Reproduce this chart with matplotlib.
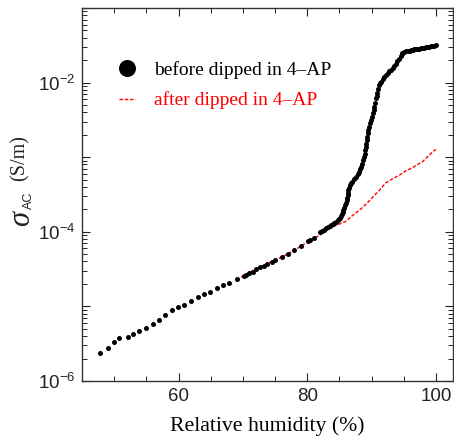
import numpy as np
import matplotlib.pyplot as plt
from matplotlib.ticker import FixedLocator, MultipleLocator, LogLocator, NullFormatter

plt.rcParams['mathtext.fontset'] = 'custom'
plt.rcParams['mathtext.rm'] = 'Liberation Sans'
plt.rcParams['mathtext.it'] = 'Liberation Sans:italic'

# before dipped in 4-AP (black dots)
rh_before = [47.8, 49.0, 49.9, 50.8, 52.1, 52.85, 53.9, 54.9, 55.96, 56.9,
             57.9, 58.96, 59.85, 60.9, 61.9, 63.0, 63.9, 64.9, 65.96, 66.9,
             67.9, 69.0, 70.1, 70.5, 71.0, 71.5, 72.1, 72.6, 73.2, 73.8,
             74.5, 75.0, 76.1, 77.0, 77.9, 78.96, 80.05, 80.5, 81.0,
             82.0, 82.3, 82.6, 82.9, 83.2, 83.5, 83.7, 84.0, 84.2, 84.5,
             84.7, 84.9, 85.1, 85.3, 85.4, 85.5, 85.6, 85.75, 85.9, 86.0,
             86.1, 86.2, 86.3, 86.35, 86.4, 86.5, 86.6, 86.8, 87.0, 87.3,
             87.6, 87.85, 88.1, 88.2, 88.3, 88.45, 88.6, 88.75, 88.9, 89.0,
             89.1, 89.2, 89.3, 89.35, 89.4, 89.5, 89.6, 89.75, 89.9, 90.05,
             90.2, 90.3, 90.4, 90.55, 90.7, 90.8, 90.9, 91.05, 91.2, 91.3,
             91.45, 91.7, 91.97, 92.2, 92.5, 92.75, 93.0, 93.25, 93.5, 93.75,
             94.0, 94.25, 94.5, 94.65, 94.8, 95.1, 95.4, 95.65, 95.9, 96.15,
             96.4, 96.65, 96.9, 97.15, 97.4, 97.65, 97.9, 98.15, 98.45, 98.7,
             98.96, 99.2, 99.5, 99.75, 100.0]
sigma_before = [2.4e-6, 2.78e-6, 3.28e-6, 3.75e-6, 3.91e-6, 4.2e-6, 4.61e-6, 5.11e-6, 5.85e-6, 6.55e-6,
                7.72e-6, 8.93e-6, 9.9e-6, 1.05e-5, 1.18e-5, 1.34e-5, 1.47e-5, 1.57e-5, 1.77e-5, 1.92e-5,
                2.04e-5, 2.31e-5, 2.56e-5, 2.67e-5, 2.81e-5, 2.92e-5, 3.15e-5, 3.35e-5, 3.52e-5, 3.71e-5,
                3.95e-5, 4.2e-5, 4.61e-5, 5.06e-5, 5.73e-5, 6.41e-5, 7.41e-5, 7.64e-5, 8.31e-5,
                1.0e-4, 1.03e-4, 1.07e-4, 1.11e-4, 1.16e-4, 1.2e-4, 1.24e-4, 1.28e-4, 1.32e-4, 1.37e-4,
                1.42e-4, 1.48e-4, 1.54e-4, 1.65e-4, 1.75e-4, 1.85e-4, 1.94e-4, 2.1e-4, 2.26e-4, 2.45e-4,
                2.64e-4, 2.85e-4, 3.08e-4, 3.35e-4, 3.6e-4, 3.9e-4, 4.2e-4, 4.45e-4, 4.66e-4, 5.05e-4,
                5.43e-4, 5.9e-4, 6.35e-4, 6.85e-4, 7.41e-4, 8.2e-4, 9.1e-4, 1.0e-3, 1.12e-3, 1.25e-3,
                1.38e-3, 1.52e-3, 1.69e-3, 1.88e-3, 2.08e-3, 2.3e-3, 2.56e-3, 2.85e-3, 3.15e-3, 3.5e-3,
                3.87e-3, 4.3e-3, 4.75e-3, 5.4e-3, 6.15e-3, 6.7e-3, 7.33e-3, 8.3e-3, 9.3e-3, 9.8e-3,
                1.03e-2, 1.11e-2, 1.2e-2, 1.27e-2, 1.34e-2, 1.41e-2, 1.48e-2, 1.57e-2, 1.67e-2, 1.79e-2,
                1.92e-2, 2.07e-2, 2.24e-2, 2.38e-2, 2.53e-2, 2.57e-2, 2.62e-2, 2.65e-2, 2.67e-2, 2.71e-2,
                2.75e-2, 2.78e-2, 2.81e-2, 2.83e-2, 2.86e-2, 2.88e-2, 2.9e-2, 2.93e-2, 2.96e-2, 2.99e-2,
                3.02e-2, 3.05e-2, 3.09e-2, 3.12e-2, 3.15e-2]

# after dipped in 4-AP (red dashed line)
rh_after = [69.0, 71.5, 73.6, 76.2, 78.8, 80.05, 81.9, 82.9, 83.9, 86.0,
            87.05, 88.1, 89.1, 90.2, 91.2, 92.2, 93.3, 94.3, 95.3, 96.4,
            97.4, 97.9, 98.4, 98.96, 99.5, 100.0]
sigma_after = [2.26e-5, 3.02e-5, 3.71e-5, 4.66e-5, 6.22e-5, 7.41e-5, 8.93e-5, 1.02e-4, 1.16e-4, 1.38e-4,
               1.66e-4, 1.94e-4, 2.33e-4, 2.92e-4, 3.6e-4, 4.52e-4, 5.16e-4, 5.73e-4, 6.55e-4, 7.26e-4,
               8.22e-4, 8.65e-4, 9.6e-4, 1.06e-3, 1.18e-3, 1.27e-3]

y_ticks = [1e-6, 1e-5, 1e-4, 1e-3, 1e-2, 1e-1]
y_ticklabels = [r'$10^{-6}$', '', r'$10^{-4}$', '', r'$10^{-2}$', '']
x_ticks = [60, 80, 100]

fig = plt.figure(figsize=(4.54, 4.43), dpi=100)
ax = fig.add_axes([0.181, 0.14, 0.816, 0.842])

ax.plot(rh_after, sigma_after, '--', color='red', lw=1.0, dashes=(2.5, 1.3),
        label='after dipped in 4\u2013AP', zorder=2)
ax.plot(rh_before, sigma_before, 'o', color='black', ms=3.6, mew=0,
        label='before dipped in 4\u2013AP', zorder=3)

ax.set_yscale('log')
ax.set_xlim(45, 102.6)
ax.set_ylim(1e-6, 1e-1)

ax.xaxis.set_major_locator(FixedLocator(x_ticks))
ax.xaxis.set_minor_locator(MultipleLocator(5))
ax.yaxis.set_major_locator(FixedLocator(y_ticks))
ax.set_yticklabels(y_ticklabels)
ax.yaxis.set_minor_locator(LogLocator(base=10, subs=np.arange(2, 10), numticks=20))
ax.yaxis.set_minor_formatter(NullFormatter())

ax.tick_params(axis='both', which='major', direction='in', length=6, width=0.8,
               top=True, right=True, labelsize=13.5, colors='#222222', pad=5)
ax.tick_params(axis='both', which='minor', direction='in', length=3.5, width=0.6,
               top=True, right=True)
for lbl in ax.get_xticklabels() + ax.get_yticklabels():
    lbl.set_fontfamily('Liberation Sans')

for s in ax.spines.values():
    s.set_color('#333333')
    s.set_linewidth(1.0)

ax.set_xlabel('Relative humidity (%)', family='Liberation Serif', fontsize=15.7, labelpad=8)

# y label built from pieces: sigma (serif italic), AC subscript (sans), unit (serif)
fig.text(0.048, 0.506, '\u03c3', rotation=90, ha='center', va='center',
         family='Liberation Serif', style='italic', fontsize=22, color='#222222')
fig.text(0.063, 0.548, 'AC', rotation=90, ha='center', va='center',
         family='Liberation Sans', fontsize=9, color='#222222')
fig.text(0.043, 0.643, '(S/m)', rotation=90, ha='center', va='center',
         family='Liberation Serif', fontsize=14.5, color='#222222')

handles, labels = ax.get_legend_handles_labels()
leg = ax.legend(handles[::-1], labels[::-1], loc='upper left', bbox_to_anchor=(0.1, 0.858),
                frameon=False, markerscale=3.4, handlelength=0.8, handletextpad=1.0,
                labelspacing=0.65, borderpad=0, borderaxespad=0,
                prop={'family': 'Liberation Serif', 'size': 14})
leg.get_texts()[1].set_color('red')

fig.savefig('out.png', dpi=100)
